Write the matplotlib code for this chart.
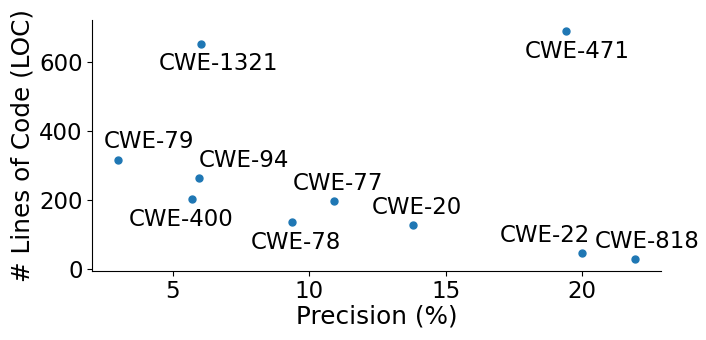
import matplotlib
matplotlib.use("Agg")
import matplotlib.pyplot as plt

labels = ["CWE-1321", "CWE-471", "CWE-79", "CWE-94", "CWE-400",
          "CWE-78", "CWE-77", "CWE-20", "CWE-22", "CWE-818"]
precision = [6.03, 19.42, 2.99, 5.94, 5.71, 9.37, 10.9, 13.79, 20.01, 21.93]
loc = [653, 688, 316, 264, 203, 138, 199, 128, 46, 29]
# label offsets in pixels (dx, dy upward positive)
offsets = [(17.6, -20), (10.5, -20), (31, 19), (45, 18), (-11, -20),
           (3.5, -21), (4, 17), (4, 18), (-38, 18), (12, 18)]

fig = plt.figure(figsize=(7.06, 3.4), dpi=100)
ax = fig.add_axes([0.1307, 0.2038, 0.8051, 0.7372])
ax.scatter(precision, loc, s=25, color="#1f77b4", zorder=3)
for lab, x, y, (dx, dy) in zip(labels, precision, loc, offsets):
    ax.annotate(lab, (x, y), xytext=(dx, dy), textcoords="offset pixels",
                ha="center", va="center", fontsize=16.5)

ax.set_xlabel("Precision (%)", fontsize=17.8, labelpad=1)
ax.set_ylabel("# Lines of Code (LOC)", fontsize=17.8, labelpad=3)
ax.set_xticks([5, 10, 15, 20])
ax.set_yticks([0, 200, 400, 600])
ax.tick_params(labelsize=16.5)
ax.spines["top"].set_visible(False)
ax.spines["right"].set_visible(False)
fig.savefig("out.png", dpi=100)
